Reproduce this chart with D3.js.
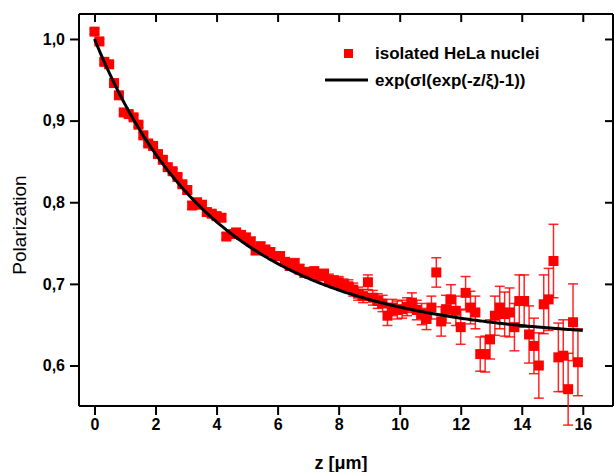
<!DOCTYPE html>
<html>
<head>
<meta charset="utf-8">
<script src="https://cdn.jsdelivr.net/npm/d3@7/dist/d3.min.js"></script>
<style>
  body { margin: 0; background: #fff; }
  text { font-family: "Liberation Sans", Arial, sans-serif; }
</style>
</head>
<body>
<div id="chart"></div>
<script>
const width = 614,
  height = 472,
  margin = { top: 14, bottom: 66, left: 79, right: 1 };

// depth z [um]
const zValues = [
  0.00, 0.16, 0.32, 0.48, 0.64, 0.80, 0.96, 1.12, 1.28, 1.44,
  1.60, 1.76, 1.92, 2.08, 2.24, 2.40, 2.56, 2.72, 2.88, 3.04,
  3.20, 3.36, 3.52, 3.68, 3.84, 4.00, 4.16, 4.32, 4.48, 4.64,
  4.80, 4.96, 5.12, 5.28, 5.44, 5.60, 5.76, 5.92, 6.08, 6.24,
  6.40, 6.56, 6.72, 6.88, 7.04, 7.20, 7.36, 7.52, 7.68, 7.84,
  8.00, 8.16, 8.32, 8.48, 8.64, 8.80, 8.96, 9.12, 9.28, 9.44,
  9.60, 9.76, 9.92, 10.08, 10.24, 10.40, 10.56, 10.72, 10.88, 11.04,
  11.20, 11.36, 11.52, 11.68, 11.84, 12.00, 12.16, 12.32, 12.48, 12.64,
  12.80, 12.96, 13.12, 13.28, 13.44, 13.60, 13.76, 13.92, 14.08, 14.24,
  14.40, 14.56, 14.72, 14.88, 15.04, 15.20, 15.36, 15.52, 15.68, 15.84
];

// measured polarization
const polValues = [
  1.009, 0.997, 0.972, 0.969, 0.946, 0.931, 0.910, 0.908, 0.904, 0.895,
  0.882, 0.872, 0.869, 0.859, 0.852, 0.843, 0.838, 0.831, 0.822, 0.815,
  0.796, 0.800, 0.797, 0.788, 0.786, 0.783, 0.781, 0.758, 0.761, 0.763,
  0.760, 0.757, 0.752, 0.741, 0.746, 0.742, 0.739, 0.734, 0.734, 0.727,
  0.722, 0.725, 0.718, 0.714, 0.713, 0.715, 0.710, 0.712, 0.705, 0.703,
  0.702, 0.699, 0.697, 0.693, 0.688, 0.685, 0.702, 0.683, 0.679, 0.676,
  0.661, 0.671, 0.668, 0.669, 0.672, 0.677, 0.668, 0.663, 0.657, 0.671,
  0.714, 0.654, 0.669, 0.681, 0.667, 0.647, 0.689, 0.671, 0.665, 0.614,
  0.614, 0.632, 0.661, 0.671, 0.663, 0.665, 0.647, 0.679, 0.679, 0.638,
  0.624, 0.600, 0.675, 0.681, 0.728, 0.610, 0.612, 0.571, 0.653, 0.604
];

// error bars (+/-)
const errValues = [
  0.003, 0.003, 0.003, 0.003, 0.003, 0.003, 0.003, 0.003, 0.003, 0.003,
  0.003, 0.003, 0.003, 0.003, 0.003, 0.003, 0.003, 0.003, 0.003, 0.004,
  0.004, 0.004, 0.004, 0.004, 0.004, 0.004, 0.004, 0.004, 0.004, 0.004,
  0.004, 0.004, 0.005, 0.005, 0.005, 0.005, 0.005, 0.005, 0.005, 0.005,
  0.005, 0.006, 0.006, 0.006, 0.006, 0.006, 0.006, 0.006, 0.007, 0.007,
  0.007, 0.007, 0.008, 0.008, 0.008, 0.008, 0.009, 0.009, 0.009, 0.010,
  0.012, 0.010, 0.011, 0.011, 0.011, 0.012, 0.012, 0.013, 0.013, 0.014,
  0.018, 0.018, 0.017, 0.018, 0.018, 0.021, 0.020, 0.020, 0.020, 0.021,
  0.022, 0.024, 0.024, 0.026, 0.027, 0.030, 0.029, 0.032, 0.032, 0.035,
  0.034, 0.040, 0.036, 0.038, 0.045, 0.042, 0.044, 0.044, 0.047, 0.041
];

// fit parameters for exp(sigma*l*(exp(-z/xi)-1))
const sigmaL = 0.4604,
  xi = 5.0,
  fitRange = [0, 16];

const xTicks = [0, 2, 4, 6, 8, 10, 12, 14, 16];
const yTicks = [0.6, 0.7, 0.8, 0.9, 1.0];

const legendLabels = ["isolated HeLa nuclei", "exp(\u03c3l(exp(-z/\u03be)-1))"];

const data = zValues.map((z, i) => ({ z: z, p: polValues[i], e: errValues[i] }));

/* SCALES */
const xScale = d3.scaleLinear()
  .domain([-0.508, 16.99])
  .range([margin.left, width - margin.right]);

const yScale = d3.scaleLinear()
  .domain([0.5504, 1.0306])
  .range([height - margin.bottom, margin.top]);

const svg = d3.select("#chart")
  .append("svg")
  .attr("width", width)
  .attr("height", height);

const fmt = d => d3.format(".1f")(d).replace(".", ",");

/* AXES */
const xAxis = d3.axisBottom(xScale).tickValues(xTicks).tickSize(9).tickPadding(4).tickFormat(d3.format("d"));
const yAxis = d3.axisLeft(yScale).tickValues(yTicks).tickSize(9).tickPadding(5).tickFormat(fmt);
const xTop = d3.axisTop(xScale).tickValues(xTicks).tickSize(-8).tickFormat("");
const yRight = d3.axisRight(yScale).tickValues(yTicks).tickSize(-8).tickFormat("");

function styleAxis(g) {
  g.select(".domain").attr("stroke-width", 2).attr("stroke", "#000");
  g.selectAll(".tick line").attr("stroke-width", 2).attr("stroke", "#000");
  g.selectAll(".tick text")
    .attr("font-size", 16)
    .attr("font-weight", "bold")
    .attr("fill", "#000")
    .style("font-family", "'Liberation Sans', Arial, sans-serif");
}

svg.append("g")
  .attr("transform", `translate(0, ${height - margin.bottom})`)
  .call(xAxis).call(styleAxis)
  .call(g => g.select(".domain").attr("d", `M${margin.left},0H${width - margin.right}`));

svg.append("g")
  .attr("transform", `translate(${margin.left}, 0)`)
  .call(yAxis).call(styleAxis)
  .call(g => g.select(".domain").attr("d", `M0,${margin.top}V${height - margin.bottom}`));

svg.append("g")
  .attr("transform", `translate(0, ${margin.top})`)
  .call(xTop).call(styleAxis)
  .call(g => g.select(".domain").attr("d", `M${margin.left},0H${width - margin.right}`));

svg.append("g")
  .attr("transform", `translate(${width - margin.right}, 0)`)
  .call(yRight).call(styleAxis)
  .call(g => g.select(".domain").attr("d", `M0,${margin.top}V${height - margin.bottom}`));

// axis titles
svg.append("text")
  .attr("x", 341)
  .attr("y", 469)
  .attr("text-anchor", "middle")
  .attr("font-size", 18)
  .attr("font-weight", "bold")
  .text("z [\u03bcm]");

svg.append("text")
  .attr("transform", `translate(26, ${(margin.top + height - margin.bottom) / 2 + 15}) rotate(-90)`)
  .attr("text-anchor", "middle")
  .attr("font-size", 19)
  .text("Polarization");

/* ERROR BARS */
const eb = svg.append("g")
  .attr("stroke", "#ff0000")
  .attr("stroke-width", 1.5)
  .attr("stroke-opacity", 0.85);

eb.selectAll("line.v")
  .data(data)
  .join("line")
  .attr("class", "v")
  .attr("x1", d => xScale(d.z))
  .attr("x2", d => xScale(d.z))
  .attr("y1", d => yScale(d.p - d.e))
  .attr("y2", d => yScale(d.p + d.e));

eb.selectAll("line.cap")
  .data(data.flatMap(d => [{ z: d.z, v: d.p - d.e }, { z: d.z, v: d.p + d.e }]))
  .join("line")
  .attr("class", "cap")
  .attr("x1", d => xScale(d.z) - 5)
  .attr("x2", d => xScale(d.z) + 5)
  .attr("y1", d => yScale(d.v))
  .attr("y2", d => yScale(d.v));

/* POINTS */
const size = 10;
svg.append("g")
  .selectAll("rect")
  .data(data)
  .join("rect")
  .attr("x", d => xScale(d.z) - size / 2)
  .attr("y", d => yScale(d.p) - size / 2)
  .attr("width", size)
  .attr("height", size)
  .attr("fill", "#ff0000");

/* FIT CURVE */
const fitZ = d3.range(fitRange[0], fitRange[1] + 0.001, 0.05);
const line = d3.line()
  .x(z => xScale(z))
  .y(z => yScale(Math.exp(sigmaL * (Math.exp(-z / xi) - 1))));

svg.append("path")
  .datum(fitZ)
  .attr("d", line)
  .attr("fill", "none")
  .attr("stroke", "#000")
  .attr("stroke-width", 3);

/* LEGEND */
const legend = svg.append("g");
legend.append("rect")
  .attr("x", 344).attr("y", 49)
  .attr("width", 9).attr("height", 9)
  .attr("fill", "#ff0000");
legend.append("line")
  .attr("x1", 325).attr("x2", 368)
  .attr("y1", 80).attr("y2", 80)
  .attr("stroke", "#000")
  .attr("stroke-width", 3);
legend.selectAll("text")
  .data(legendLabels)
  .join("text")
  .attr("x", 375)
  .attr("y", (d, i) => 59 + i * 27)
  .attr("font-size", 17)
  .attr("font-weight", "bold")
  .text(d => d);
</script>
</body>
</html>
